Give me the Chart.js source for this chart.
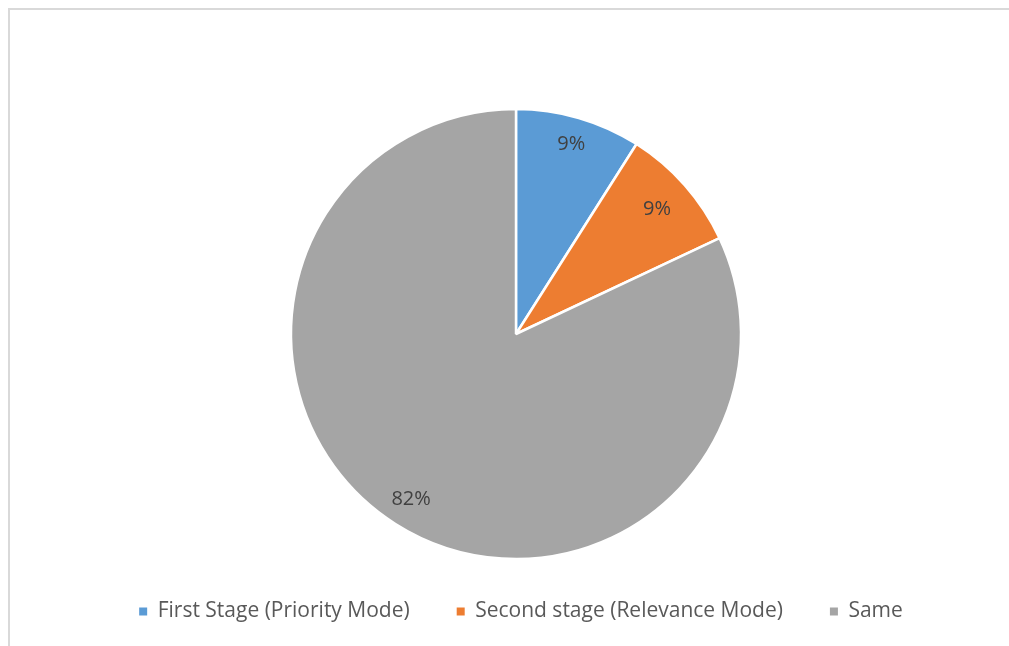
<!DOCTYPE html>
<html>
<head>
<meta charset="utf-8">
<script src="https://cdn.jsdelivr.net/npm/chart.js@4/dist/chart.umd.min.js"></script>
<style>
  html, body { margin: 0; padding: 0; background: #ffffff; }
  #wrap { position: relative; width: 1009px; height: 646px; overflow: hidden; }
  #frame {
    position: absolute; left: 8px; top: 8px; right: 0; bottom: 0;
    border-top: 2px solid #d9d9d9; border-left: 2px solid #d9d9d9;
  }
  canvas { position: absolute; left: 0; top: 0; }
</style>
</head>
<body>
<div id="wrap">
  <div id="frame"></div>
  <canvas id="chart" width="1009" height="646"></canvas>
</div>
<script>
// Share of cases by stage
const categories = ['First Stage (Priority Mode)', 'Second stage (Relevance Mode)', 'Same'];
const shares = [9, 9, 82];
const sliceColors = ['#5b9bd5', '#ed7d31', '#a5a5a5'];

const FONT = '"Open Sans", "Liberation Sans", sans-serif';

// Writes each slice's percentage inside the slice
const sliceLabels = {
  id: 'sliceLabels',
  afterDatasetsDraw(chart, args, opts) {
    const ctx = chart.ctx;
    const meta = chart.getDatasetMeta(0);
    const data = chart.data.datasets[0].data;
    const total = data.reduce((a, b) => a + b, 0);
    ctx.save();
    ctx.font = opts.size + 'px ' + FONT;
    ctx.fillStyle = opts.color;
    ctx.textAlign = 'center';
    ctx.textBaseline = 'middle';
    meta.data.forEach((arc, i) => {
      const mid = (arc.startAngle + arc.endAngle) / 2;
      const r = arc.outerRadius * opts.radii[i];
      const x = arc.x + Math.cos(mid) * r;
      const y = arc.y + Math.sin(mid) * r;
      ctx.fillText(Math.round(data[i] / total * 100) + '%', x, y);
    });
    ctx.restore();
  }
};

// Moves the legend row sideways a little after layout
const legendNudge = {
  id: 'legendNudge',
  afterLayout(chart, args, opts) {
    if (chart.legend) {
      chart.legend.left += opts.dx;
    }
  }
};

const pieLegendLabels = Chart.overrides.pie.plugins.legend.labels.generateLabels;

new Chart(document.getElementById('chart'), {
  type: 'pie',
  data: {
    labels: categories,
    datasets: [{
      data: shares,
      backgroundColor: sliceColors,
      borderColor: '#ffffff',
      borderWidth: 2.5,
      radius: 225,
      clip: false
    }]
  },
  options: {
    responsive: false,
    animation: false,
    layout: { padding: { top: 114, left: 23, right: 0, bottom: 14 } },
    plugins: {
      tooltip: { enabled: false },
      legend: {
        position: 'bottom',
        labels: {
          boxWidth: 8,
          boxHeight: 8,
          padding: 47,
          color: '#595959',
          font: { family: FONT, size: 21 },
          generateLabels(chart) {
            return pieLegendLabels(chart).map(item => Object.assign(item, { lineWidth: 0, strokeStyle: 'rgba(0,0,0,0)' }));
          }
        }
      },
      legendNudge: { dx: 10 },
      sliceLabels: { size: 20, color: '#404040', radii: [0.88, 0.835, 0.87] }
    }
  },
  plugins: [sliceLabels, legendNudge]
});
</script>
</body>
</html>
